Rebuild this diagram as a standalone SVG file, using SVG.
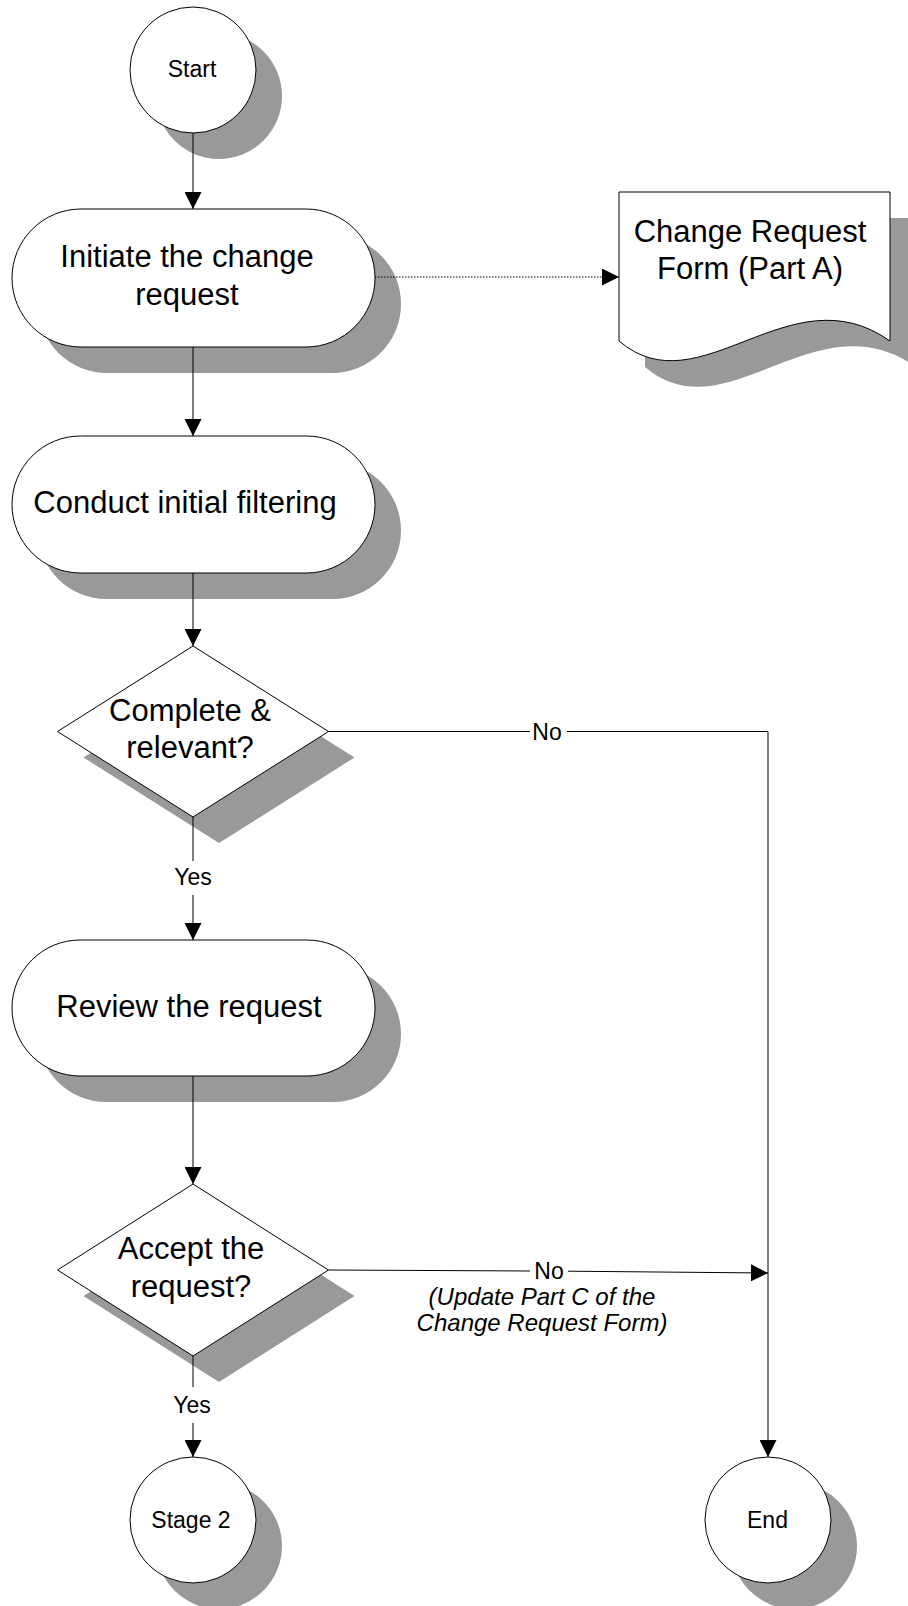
<svg xmlns="http://www.w3.org/2000/svg" width="908" height="1606" viewBox="0 0 908 1606">
<style>
.shadow{fill:#999999;stroke:none}
.shape{fill:#ffffff;stroke:#000000;stroke-width:1}
.big{font-family:"Liberation Sans",Arial,sans-serif;font-size:31px;fill:#000;text-anchor:middle}
.small{font-family:"Liberation Sans",Arial,sans-serif;font-size:23px;fill:#000;text-anchor:middle}
.ital{font-family:"Liberation Sans",Arial,sans-serif;font-size:24px;font-style:italic;fill:#000;text-anchor:middle}
.conn{fill:none;stroke:#000;stroke-width:1}
.dot{fill:none;stroke:#000;stroke-width:1;stroke-dasharray:1.5 1.5}
</style>
<defs>
<marker id="arr" viewBox="0 0 17 17" refX="17" refY="8.5" markerWidth="17" markerHeight="17" markerUnits="userSpaceOnUse" orient="auto">
<path d="M0,0 L17,8.5 L0,17 z" fill="#000"/>
</marker>
<path id="docshape" d="M619,192 H890 V341 C790,270 700,410 619,341 Z"/>
</defs>
<rect width="908" height="1606" fill="#ffffff"/>

<g id="start">
<circle class="shadow" cx="219" cy="96" r="63"/>
<circle class="shape" cx="193" cy="70" r="63"/>
<text class="small" x="192" y="77">Start</text>
</g>

<g id="initiate">
<rect class="shadow" x="38" y="235" width="363" height="138" rx="69"/>
<rect class="shape" x="12" y="209" width="363" height="138" rx="69"/>
<text class="big" x="187" y="267">Initiate the change</text>
<text class="big" x="187" y="305">request</text>
</g>

<g id="form">
<use href="#docshape" class="shadow" transform="translate(26,26)"/>
<use href="#docshape" class="shape"/>
<text class="big" x="750" y="242">Change Request</text>
<text class="big" x="750" y="279">Form (Part A)</text>
</g>

<g id="filter">
<rect class="shadow" x="38" y="462" width="363" height="137" rx="68.5"/>
<rect class="shape" x="12" y="436" width="363" height="137" rx="68.5"/>
<text class="big" x="185" y="513">Conduct initial filtering</text>
</g>

<g id="complete">
<polygon class="shadow" points="219,672 354.5,757.5 219,843 83.5,757.5"/>
<polygon class="shape" points="193,646 328.5,731.5 193,817 57.5,731.5"/>
<text class="big" x="190" y="721">Complete &amp;</text>
<text class="big" x="190" y="758">relevant?</text>
</g>

<g id="review">
<rect class="shadow" x="38" y="966" width="363" height="136" rx="68"/>
<rect class="shape" x="12" y="940" width="363" height="136" rx="68"/>
<text class="big" x="189" y="1017">Review the request</text>
</g>

<g id="accept">
<polygon class="shadow" points="219,1210 354.5,1296 219,1382 83.5,1296"/>
<polygon class="shape" points="193,1184 328.5,1270 193,1356 57.5,1270"/>
<text class="big" x="191" y="1259">Accept the</text>
<text class="big" x="191" y="1297">request?</text>
</g>

<g id="stage2">
<circle class="shadow" cx="219" cy="1546" r="63"/>
<circle class="shape" cx="193" cy="1520" r="63"/>
<text class="small" x="191" y="1528">Stage 2</text>
</g>

<g id="end">
<circle class="shadow" cx="794" cy="1546" r="63"/>
<circle class="shape" cx="768" cy="1520" r="63"/>
<text class="small" x="767.5" y="1528">End</text>
</g>

<g id="connectors">
<line class="conn" x1="193" y1="133" x2="193" y2="209" marker-end="url(#arr)"/>
<line class="dot" x1="375" y1="277" x2="619" y2="277" marker-end="url(#arr)"/>
<line class="conn" x1="193" y1="347" x2="193" y2="436" marker-end="url(#arr)"/>
<line class="conn" x1="193" y1="573" x2="193" y2="646" marker-end="url(#arr)"/>
<line class="conn" x1="193" y1="817" x2="193" y2="861"/>
<text class="small" x="193" y="885">Yes</text>
<line class="conn" x1="193" y1="895" x2="193" y2="940" marker-end="url(#arr)"/>
<line class="conn" x1="193" y1="1076" x2="193" y2="1184" marker-end="url(#arr)"/>
<line class="conn" x1="193" y1="1356" x2="193" y2="1387"/>
<text class="small" x="192" y="1413">Yes</text>
<line class="conn" x1="193" y1="1423" x2="193" y2="1457" marker-end="url(#arr)"/>
<line class="conn" x1="328.5" y1="731.5" x2="530" y2="731.5"/>
<text class="small" x="547" y="740">No</text>
<polyline class="conn" points="567,731.5 768,731.5 768,1457" marker-end="url(#arr)"/>
<line class="conn" x1="328.5" y1="1270" x2="530" y2="1271"/>
<text class="small" x="549" y="1279">No</text>
<line class="conn" x1="568" y1="1271.2" x2="768" y2="1273" marker-end="url(#arr)"/>
<text class="ital" x="542" y="1305">(Update Part C of the</text>
<text class="ital" x="542" y="1331">Change Request Form)</text>
</g>
</svg>
